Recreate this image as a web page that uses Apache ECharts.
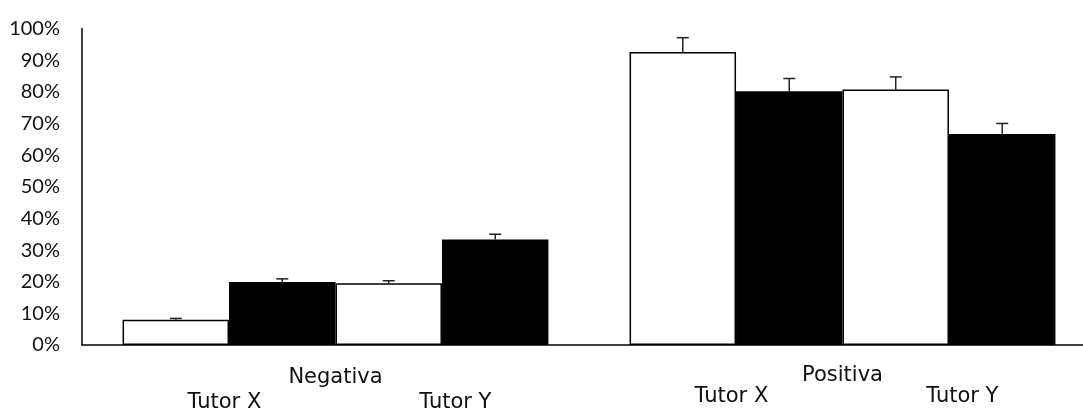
<!DOCTYPE html>
<html><head><meta charset="utf-8">
<script src="https://cdn.jsdelivr.net/npm/echarts@6/dist/echarts.min.js"></script>
<style>html,body{margin:0;padding:0;background:#fff}#c{width:1083px;height:410px}</style>
</head><body><div id="c"></div>
<script>
const categories = ['Negativa', 'Positiva'];
const tutorLabels = ['Tutor X', 'Tutor Y'];
const tutorXWhite = [8.0, 92.6];
const tutorXBlack = [19.9, 80.2];
const tutorYWhite = [19.5, 80.7];
const tutorYBlack = [33.3, 66.7];
const errXWhite = [0.4, 4.5];
const errXBlack = [1.0, 4.0];
const errYWhite = [0.8, 4.0];
const errYBlack = [1.7, 3.3];

const GAP = 0.16;
const chart = echarts.init(document.getElementById('c'), null, {renderer: 'canvas'});

function barSeries(name, vals, fill) {
  return {
    name: name, type: 'bar', data: vals, barGap: '0%', barCategoryGap: (GAP * 100) + '%',
    itemStyle: {color: fill, borderColor: '#000', borderWidth: 1.5},
    silent: true
  };
}
function errSeries(vals, errs, idx) {
  return {
    type: 'custom', z: 5, silent: true,
    data: vals.map((v, i) => [i, v, v + errs[i]]),
    encode: {x: 0, y: [1, 2]},
    renderItem: function (params, api) {
      const c = api.value(0);
      const p0 = api.coord([c, api.value(1)]);
      const p1 = api.coord([c, api.value(2)]);
      const band = api.size([1, 0])[0];
      const bw = band * (1 - GAP) / 4;
      const x = p0[0] + (idx - 1.5) * bw;
      const half = 6;
      return {type: 'group', children: [
        {type: 'line', shape: {x1: x, y1: p0[1], x2: x, y2: p1[1]}, style: {stroke: '#222', lineWidth: 1.5}},
        {type: 'line', shape: {x1: x - half, y1: p1[1], x2: x + half, y2: p1[1]}, style: {stroke: '#222', lineWidth: 1.5}}
      ]};
    }
  };
}

const option = {
  animation: false,
  backgroundColor: '#fff',
  grid: {left: 82, top: 28.5, width: 1014, height: 316.5, containLabel: false, outerBoundsMode: 'none'},
  xAxis: {
    type: 'category', data: categories,
    axisLine: {show: true, lineStyle: {color: '#000', width: 1.5}},
    axisTick: {show: false},
    axisLabel: {
      interval: 0, margin: 20,
      formatter: function (v, i) {
        return '{n' + i + '|' + v + '}\n{s' + i + '| }{t' + i + '|' + tutorLabels[0] + '}{g' + i + '| }{t' + i + '|' + tutorLabels[1] + '}';
      },
      rich: {
        n0: {fontFamily: 'DejaVu Sans', fontSize: 21, color: '#111', lineHeight: 25},
        t0: {fontFamily: 'DejaVu Sans', fontSize: 21, color: '#111', lineHeight: 25},
        g0: {width: 158, lineHeight: 25, fontSize: 21},
        s0: {width: 8, lineHeight: 25, fontSize: 21},
        n1: {fontFamily: 'DejaVu Sans', fontSize: 21, color: '#111', lineHeight: 21},
        t1: {fontFamily: 'DejaVu Sans', fontSize: 21, color: '#111', lineHeight: 21},
        g1: {width: 158, lineHeight: 21, fontSize: 21},
        s1: {width: 8, lineHeight: 21, fontSize: 21}
      }
    }
  },
  yAxis: {
    type: 'value', min: 0, max: 100, interval: 10,
    axisLine: {show: true, lineStyle: {color: '#000', width: 1.5}},
    axisTick: {show: false},
    splitLine: {show: false},
    axisLabel: {formatter: '{value}%', fontFamily: 'Lato', fontSize: 20, color: '#111', margin: 22}
  },
  series: [
    barSeries('Tutor X A', tutorXWhite, '#fff'),
    barSeries('Tutor X B', tutorXBlack, '#000'),
    barSeries('Tutor Y A', tutorYWhite, '#fff'),
    barSeries('Tutor Y B', tutorYBlack, '#000'),
    errSeries(tutorXWhite, errXWhite, 0),
    errSeries(tutorXBlack, errXBlack, 1),
    errSeries(tutorYWhite, errYWhite, 2),
    errSeries(tutorYBlack, errYBlack, 3)
  ]
};
chart.setOption(option);
</script></body></html>
